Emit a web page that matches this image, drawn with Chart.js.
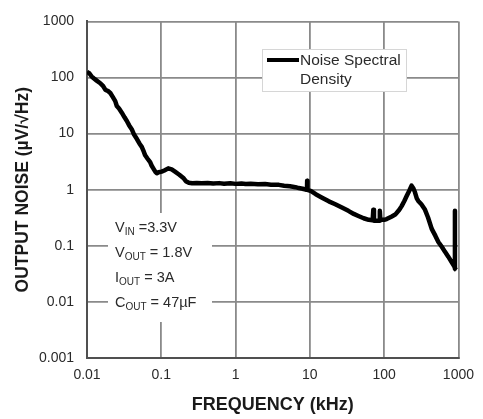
<!DOCTYPE html>
<html>
<head>
<meta charset="utf-8">
<title>Output Noise vs Frequency</title>
<script src="https://cdn.jsdelivr.net/npm/chart.js@4.4.1/dist/chart.umd.min.js"></script>
<style>
  html, body { margin: 0; padding: 0; background: #ffffff; }
  #wrap { width: 483px; height: 419px; }
</style>
</head>
<body>
<div id="wrap"><canvas id="noise" width="483" height="419"></canvas></div>
<script>
// Measured output noise spectral density (µV/√Hz) versus frequency (kHz)
const freqKHz = [
  0.0100, 0.0108, 0.0115, 0.0123, 0.0135, 0.0151, 0.0165, 0.0177, 0.0190, 0.0206,
  0.0222, 0.0240, 0.0252, 0.0270, 0.0294, 0.0320, 0.0344, 0.0370, 0.0400, 0.0430,
  0.0470, 0.0510, 0.0546, 0.0580, 0.0607, 0.0650, 0.0708, 0.0740, 0.0780, 0.0830,
  0.0870, 0.0920, 0.1010, 0.1100, 0.1240, 0.1380, 0.1530, 0.1750, 0.2000, 0.2140,
  0.2350, 0.2600, 0.3000, 0.3500, 0.4200, 0.5000, 0.6000, 0.7000, 0.8500, 1.000,
  1.200, 1.370, 1.600, 2.000, 2.500, 3.000, 3.830, 4.500, 5.400, 6.400,
  7.100, 8.000, 8.800, 9.150, 9.200, 9.300, 10.40, 12.00, 14.60, 18.00,
  22.00, 27.00, 33.00, 39.00, 45.00, 53.00, 62.00, 70.00, 71.50, 73.00,
  80.00, 86.00, 87.50, 89.00, 100.0, 108.0, 125.0, 141.0, 160.0, 172.0,
  187.0, 201.0, 218.0, 234.0, 248.0, 260.0, 275.0, 288.0, 317.0, 352.0,
  390.0, 437.0, 490.0, 537.0, 600.0, 660.0, 730.0, 805.0, 870.0, 893.0,
  896.0, 899.0, 940.0
];
const noiseDensity = [
  126, 118, 105, 97, 88, 79, 70, 60, 58, 53,
  45, 38, 31, 28, 23.6, 19.5, 16.8, 14.0, 12.0, 9.6,
  8.0, 6.6, 5.8, 4.8, 4.1, 3.6, 3.1, 2.7, 2.4, 2.1,
  1.96, 2.05, 2.1, 2.2, 2.4, 2.3, 2.1, 1.85, 1.6, 1.42,
  1.33, 1.30, 1.32, 1.30, 1.32, 1.29, 1.31, 1.28, 1.30, 1.27,
  1.29, 1.26, 1.28, 1.25, 1.26, 1.23, 1.22, 1.18, 1.15, 1.11,
  1.07, 1.04, 1.00, 1.02, 1.45, 0.99, 0.94, 0.83, 0.72, 0.62,
  0.55, 0.48, 0.42, 0.37, 0.34, 0.31, 0.29, 0.285, 0.44, 0.28,
  0.28, 0.28, 0.42, 0.29, 0.29, 0.30, 0.33, 0.36, 0.44, 0.51,
  0.63, 0.77, 0.96, 1.18, 1.05, 0.90, 0.70, 0.63, 0.55, 0.45,
  0.32, 0.20, 0.15, 0.117, 0.095, 0.078, 0.064, 0.052, 0.044, 0.041,
  0.42, 0.039, 0.037
];

const xTickValues = [0.01, 0.1, 1, 10, 100, 1000];
const xTickLabels = ['0.01', '0.1', '1', '10', '100', '1000'];
const yTickValues = [0.001, 0.01, 0.1, 1, 10, 100, 1000];
const yTickLabels = ['0.001', '0.01', '0.1', '1', '10', '100', '1000'];

const seriesName = ['Noise Spectral', 'Density'];
// Test conditions: [main letter, subscript, rest]
const conditionLines = [
  ['V', 'IN', ' =3.3V'],
  ['V', 'OUT', ' = 1.8V'],
  ['I', 'OUT', ' = 3A'],
  ['C', 'OUT', ' = 47µF']
];

const FONT = '"Liberation Sans", Arial, Helvetica, sans-serif';
const GRID = '#8a8a8a';
const TEXT = '#2a2a2a';

const points = freqKHz.map((f, i) => ({ x: f, y: noiseDensity[i] }));

function pinTicks(values) {
  return scale => { scale.ticks = values.map(v => ({ value: v })); };
}

// Legend box and test-condition block drawn inside the plot
const notesPlugin = {
  id: 'panelNotes',
  afterDatasetsDraw(chart) {
    const ctx = chart.ctx;
    ctx.save();

    // legend box
    const bx = 262, by = 49, bw = 144, bh = 42;
    ctx.fillStyle = '#ffffff';
    ctx.fillRect(bx, by, bw, bh);
    ctx.strokeStyle = '#d6d6d6';
    ctx.lineWidth = 1;
    ctx.strokeRect(bx + 0.5, by + 0.5, bw, bh);
    ctx.strokeStyle = '#000000';
    ctx.lineWidth = 4;
    ctx.beginPath();
    ctx.moveTo(bx + 5, by + 11);
    ctx.lineTo(bx + 37, by + 11);
    ctx.stroke();
    ctx.fillStyle = TEXT;
    ctx.font = '15.5px ' + FONT;
    ctx.textAlign = 'left';
    ctx.textBaseline = 'middle';
    ctx.fillText(seriesName[0], bx + 38, by + 12);
    ctx.fillText(seriesName[1], bx + 38, by + 31);

    // test conditions block
    ctx.fillStyle = '#ffffff';
    ctx.fillRect(108, 213, 104, 109);
    const startY = 228, step = 25;
    conditionLines.forEach((ln, i) => {
      const y = startY + i * step;
      let x = 115;
      ctx.fillStyle = TEXT;
      ctx.textBaseline = 'middle';
      ctx.font = '14.5px ' + FONT;
      ctx.fillText(ln[0], x, y);
      x += ctx.measureText(ln[0]).width;
      ctx.font = '10px ' + FONT;
      ctx.fillText(ln[1], x, y + 4);
      x += ctx.measureText(ln[1]).width;
      ctx.font = '14.5px ' + FONT;
      ctx.fillText(ln[2], x, y);
    });
    ctx.restore();
  }
};

new Chart(document.getElementById('noise'), {
  type: 'line',
  data: {
    datasets: [{
      label: seriesName.join(' '),
      data: points,
      borderColor: '#000000',
      borderWidth: 4.5,
      borderJoinStyle: 'round',
      pointRadius: 0,
      tension: 0,
      fill: false
    }]
  },
  options: {
    responsive: false,
    animation: false,
    devicePixelRatio: 1,
    layout: { padding: { top: 15, right: 23, left: 0, bottom: 0 } },
    plugins: {
      legend: { display: false },
      tooltip: { enabled: false }
    },
    scales: {
      x: {
        type: 'logarithmic',
        min: 0.01,
        max: 1000,
        afterBuildTicks: pinTicks(xTickValues),
        afterFit: s => { s.height = 61; },
        grid: { color: GRID, lineWidth: 1.8, drawTicks: false },
        border: { display: true, color: '#505050', width: 2 },
        ticks: {
          padding: 9,
          color: TEXT,
          font: { family: FONT, size: 14 },
          autoSkip: false,
          maxRotation: 0,
          callback: (v, i) => xTickLabels[i]
        },
        title: {
          display: true,
          text: 'FREQUENCY (kHz)',
          color: '#1a1a1a',
          font: { family: FONT, size: 18, weight: 'bold' },
          padding: { top: 0, bottom: 3 }
        }
      },
      y: {
        type: 'logarithmic',
        min: 0.001,
        max: 1000,
        afterBuildTicks: pinTicks(yTickValues),
        afterFit: s => { s.width = 87; },
        grid: { color: GRID, lineWidth: 1.8, drawTicks: false },
        border: { display: true, color: '#505050', width: 2 },
        ticks: {
          padding: 13,
          color: TEXT,
          font: { family: FONT, size: 14 },
          autoSkip: false,
          callback: (v, i) => yTickLabels[i]
        },
        title: {
          display: true,
          text: 'OUTPUT NOISE (µV/√Hz)',
          color: '#1a1a1a',
          font: { family: FONT, size: 17.5, weight: 'bold' },
          padding: { top: 13, bottom: 0 }
        }
      }
    }
  },
  plugins: [notesPlugin]
});
</script>
</body>
</html>
